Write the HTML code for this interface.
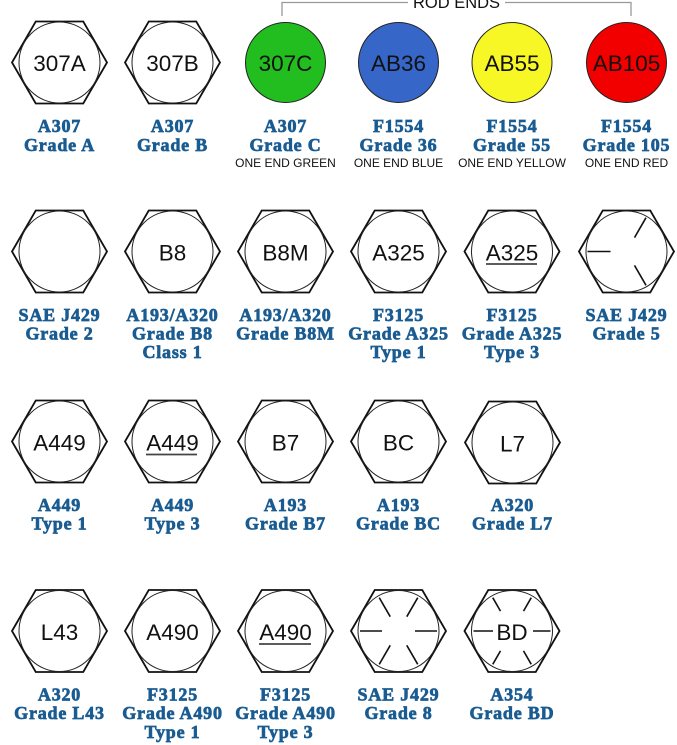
<!DOCTYPE html>
<html><head><meta charset="utf-8"><style>
html,body{margin:0;padding:0;background:#fff;}
svg{display:block;}
.hx{fill:#fff;stroke:#111;stroke-width:1.8;stroke-linejoin:miter;}
.ci{fill:none;stroke:#222;stroke-width:1;}
.cc{stroke:#222;stroke-width:1;}
.mk{stroke:#111;stroke-width:1.6;}
.ul{stroke:#444;stroke-width:1.8;}
.ht{font-family:"Liberation Sans",Arial,sans-serif;font-size:22.5px;fill:#111;text-anchor:middle;}
.lb{font-family:"Liberation Serif",serif;font-weight:bold;font-size:18px;fill:#1a5c91;stroke:#1a5c91;stroke-width:0.7;text-anchor:middle;letter-spacing:0.8px;}
.sm{font-family:"Liberation Sans",Arial,sans-serif;font-size:12px;fill:#111;text-anchor:middle;}
</style></head><body>
<svg width="677" height="745" viewBox="0 0 677 745" xmlns="http://www.w3.org/2000/svg">
<rect width="677" height="745" fill="#fff"/>
<defs>
<g id="hex"><polygon class="hx" points="-47.5,0 -23.75,-41 23.75,-41 47.5,0 23.75,41 -23.75,41"/><circle class="ci" r="40.5"/></g>
</defs>

<!-- ROD ENDS bracket -->
<path d="M282,16 V2.5 H408 M505,2.5 H631 V16" fill="none" stroke="#999" stroke-width="1.3"/>
<text x="456.5" y="8" style="font-family:'Liberation Sans',Arial,sans-serif;font-size:16.5px;fill:#111;text-anchor:middle;">ROD ENDS</text>

<!-- Row 1 -->
<use href="#hex" x="59.5" y="62.5"/><text class="ht" x="59.5" y="71">307A</text>
<use href="#hex" x="172.5" y="62.5"/><text class="ht" x="172.5" y="71">307B</text>
<circle class="cc" cx="285.5" cy="62.5" r="40" fill="#22bd1e"/><text class="ht" x="285.5" y="71">307C</text>
<circle class="cc" cx="398.5" cy="62.5" r="40" fill="#3566c8"/><text class="ht" x="398.5" y="71">AB36</text>
<circle class="cc" cx="512" cy="62.5" r="40" fill="#f7f726"/><text class="ht" x="512" y="71">AB55</text>
<circle class="cc" cx="626.5" cy="62.5" r="40" fill="#f20000"/><text class="ht" x="626.5" y="71">AB105</text>

<text class="lb" x="59.5" y="132">A307</text><text class="lb" x="59.5" y="151">Grade A</text>
<text class="lb" x="172.5" y="132">A307</text><text class="lb" x="172.5" y="151">Grade B</text>
<text class="lb" x="285.5" y="132">A307</text><text class="lb" x="285.5" y="151">Grade C</text><text class="sm" x="285.5" y="167">ONE END GREEN</text>
<text class="lb" x="398.5" y="132">F1554</text><text class="lb" x="398.5" y="151">Grade 36</text><text class="sm" x="398.5" y="167">ONE END BLUE</text>
<text class="lb" x="512" y="132">F1554</text><text class="lb" x="512" y="151">Grade 55</text><text class="sm" x="512" y="167">ONE END YELLOW</text>
<text class="lb" x="626.5" y="132">F1554</text><text class="lb" x="626.5" y="151">Grade 105</text><text class="sm" x="626.5" y="167">ONE END RED</text>

<!-- Row 2 -->
<use href="#hex" x="59.5" y="251.5"/>
<use href="#hex" x="172.5" y="251.5"/><text class="ht" x="172.5" y="260.5">B8</text>
<use href="#hex" x="285.5" y="251.5"/><text class="ht" x="285.5" y="260.5">B8M</text>
<use href="#hex" x="398.5" y="251.5"/><text class="ht" x="398.5" y="260.5">A325</text>
<use href="#hex" x="512" y="251.5"/><text class="ht" x="512" y="260.5">A325</text>
<line class="ul" x1="486" y1="264" x2="537" y2="264"/>
<use href="#hex" x="626.5" y="251.5"/>
<g transform="translate(626.5,251.5)">
<line class="mk" x1="-39" y1="0" x2="-16" y2="0"/>
<line class="mk" x1="8" y1="-13.9" x2="19.5" y2="-33.8"/>
<line class="mk" x1="8" y1="13.9" x2="19.5" y2="33.8"/>
</g>

<text class="lb" x="59.5" y="321">SAE J429</text><text class="lb" x="59.5" y="339.5">Grade 2</text>
<text class="lb" x="172.5" y="321">A193/A320</text><text class="lb" x="172.5" y="339.5">Grade B8</text><text class="lb" x="172.5" y="358">Class 1</text>
<text class="lb" x="285.5" y="321">A193/A320</text><text class="lb" x="285.5" y="339.5">Grade B8M</text>
<text class="lb" x="398.5" y="321">F3125</text><text class="lb" x="398.5" y="339.5">Grade A325</text><text class="lb" x="398.5" y="358">Type 1</text>
<text class="lb" x="512" y="321">F3125</text><text class="lb" x="512" y="339.5">Grade A325</text><text class="lb" x="512" y="358">Type 3</text>
<text class="lb" x="626.5" y="321">SAE J429</text><text class="lb" x="626.5" y="339.5">Grade 5</text>

<!-- Row 3 -->
<use href="#hex" x="59.5" y="441.5"/><text class="ht" x="59.5" y="450.5">A449</text>
<use href="#hex" x="172.5" y="441.5"/><text class="ht" x="172.5" y="450.5">A449</text>
<line class="ul" x1="146" y1="454.5" x2="197" y2="454.5"/>
<use href="#hex" x="285.5" y="441.5"/><text class="ht" x="285.5" y="450.5">B7</text>
<use href="#hex" x="398.5" y="441.5"/><text class="ht" x="398.5" y="450.5">BC</text>
<use href="#hex" x="512.5" y="442.5"/><text class="ht" x="512.5" y="451.5">L7</text>

<text class="lb" x="59.5" y="511">A449</text><text class="lb" x="59.5" y="529.5">Type 1</text>
<text class="lb" x="172.5" y="511">A449</text><text class="lb" x="172.5" y="529.5">Type 3</text>
<text class="lb" x="285.5" y="511">A193</text><text class="lb" x="285.5" y="529.5">Grade B7</text>
<text class="lb" x="398.5" y="511">A193</text><text class="lb" x="398.5" y="529.5">Grade BC</text>
<text class="lb" x="512.5" y="511">A320</text><text class="lb" x="512.5" y="529.5">Grade L7</text>

<!-- Row 4 -->
<use href="#hex" x="59.5" y="631"/><text class="ht" x="59.5" y="640">L43</text>
<use href="#hex" x="172.5" y="631"/><text class="ht" x="172.5" y="640">A490</text>
<use href="#hex" x="285.5" y="631"/><text class="ht" x="285.5" y="640">A490</text>
<line class="ul" x1="259" y1="644" x2="311" y2="644"/>
<use href="#hex" x="398.5" y="631"/>
<g transform="translate(398.5,631)">
<line class="mk" x1="-38.5" y1="0" x2="-16.5" y2="0"/>
<line class="mk" x1="38.5" y1="0" x2="16.5" y2="0"/>
<line class="mk" x1="8.25" y1="-14.3" x2="19.25" y2="-33.3"/>
<line class="mk" x1="-8.25" y1="-14.3" x2="-19.25" y2="-33.3"/>
<line class="mk" x1="8.25" y1="14.3" x2="19.25" y2="33.3"/>
<line class="mk" x1="-8.25" y1="14.3" x2="-19.25" y2="33.3"/>
</g>
<use href="#hex" x="512" y="631"/><text class="ht" x="512" y="640">BD</text>
<g transform="translate(512,631)">
<line class="mk" x1="-38.5" y1="0" x2="-19" y2="0"/>
<line class="mk" x1="38.5" y1="0" x2="21" y2="0"/>
<line class="mk" x1="11.5" y1="-19.9" x2="19.25" y2="-33.3"/>
<line class="mk" x1="-11.5" y1="-19.9" x2="-19.25" y2="-33.3"/>
<line class="mk" x1="11.5" y1="19.9" x2="19.25" y2="33.3"/>
<line class="mk" x1="-11.5" y1="19.9" x2="-19.25" y2="33.3"/>
</g>

<text class="lb" x="59.5" y="700.5">A320</text><text class="lb" x="59.5" y="719">Grade L43</text>
<text class="lb" x="172.5" y="700.5">F3125</text><text class="lb" x="172.5" y="719">Grade A490</text><text class="lb" x="172.5" y="738">Type 1</text>
<text class="lb" x="285.5" y="700.5">F3125</text><text class="lb" x="285.5" y="719">Grade A490</text><text class="lb" x="285.5" y="738">Type 3</text>
<text class="lb" x="398.5" y="700.5">SAE J429</text><text class="lb" x="398.5" y="719">Grade 8</text>
<text class="lb" x="512" y="700.5">A354</text><text class="lb" x="512" y="719">Grade BD</text>
</svg>
</body></html>
